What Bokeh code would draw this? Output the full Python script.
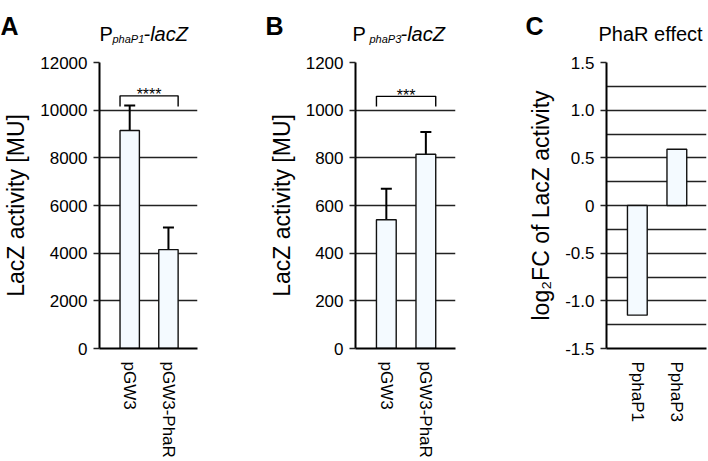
from bokeh.plotting import figure
from bokeh.models import Range1d, FixedTicker, Label, Whisker, ColumnDataSource, TeeHead
from bokeh.layouts import row, column
from bokeh.embed import file_html
from bokeh.resources import INLINE

FONT = "Liberation Sans"
BAR_FILL = "#f4faff"
GRID = "#222222"

# --- data -------------------------------------------------------------
strains = ["pGW3", "pGW3-PhaR"]

# P_phaP1-lacZ reporter (Miller units, mean and error)
phaP1_mean = [9150, 4150]
phaP1_err = [1050, 930]
phaP1_signif = "****"

# P_phaP3-lacZ reporter
phaP3_mean = [540, 815]
phaP3_err = [130, 93]
phaP3_signif = "***"

# log2 fold change caused by PhaR
promoters = ["PphaP1", "PphaP3"]
log2fc = [-1.15, 0.59]

ticks_A = [0, 2000, 4000, 6000, 8000, 10000, 12000]
ticks_B = [0, 200, 400, 600, 800, 1000, 1200]
ticks_C = [-1.5, -1.0, -0.5, 0.0, 0.5, 1.0, 1.5]
tick_labels_C = ["-1.5", "-1.0", "-0.5", "0", "0.5", "1.0", "1.5"]
grid_C = [-1.5, -1.25, -1.0, -0.75, -0.5, -0.25, 0.0, 0.25, 0.5, 0.75, 1.0, 1.25, 1.5]

WIDTH = 708
HEAD_H = 45          # strip with panel letters and titles
PLOT_H = 461 - HEAD_H
TOP_BORDER = 17
BOTTOM_BORDER = 113


def make_panel(width, left, right, names, ticks, grid_ticks, ylabel, tick_labels=None):
    xs = list(range(1, len(names) + 1))
    p = figure(width=width, height=PLOT_H,
               x_range=Range1d(0.22, 2.75), y_range=Range1d(ticks[0], ticks[-1]),
               output_backend="svg", toolbar_location=None,
               min_border_left=left, min_border_right=right,
               min_border_top=TOP_BORDER, min_border_bottom=BOTTOM_BORDER)
    p.outline_line_color = None
    p.background_fill_color = "white"
    p.border_fill_color = "white"

    xa = p.xaxis[0]
    xa.ticker = FixedTicker(ticks=xs)
    xa.major_label_overrides = {x: n for x, n in zip(xs, names)}
    xa.major_label_orientation = "vertical"
    xa.major_tick_line_color = None
    xa.major_tick_out = 0
    xa.major_tick_in = 0
    xa.minor_tick_line_color = None
    xa.minor_tick_out = 0
    xa.axis_line_width = 2
    xa.axis_line_color = "black"
    xa.major_label_standoff = 13
    xa.major_label_text_font = FONT
    xa.major_label_text_font_size = "17px"
    xa.major_label_text_color = "black"
    p.xgrid.visible = False

    ya = p.yaxis[0]
    ya.ticker = FixedTicker(ticks=ticks)
    if tick_labels is not None:
        ya.major_label_overrides = {t: s for t, s in zip(ticks, tick_labels)}
    ya.major_tick_out = 6
    ya.major_tick_in = 0
    ya.major_tick_line_width = 1.5
    ya.major_tick_line_color = GRID
    ya.minor_tick_line_color = None
    ya.axis_line_width = 2
    ya.axis_line_color = "black"
    ya.major_label_text_font = FONT
    ya.major_label_text_font_size = "17px"
    ya.major_label_text_color = "black"
    ya.major_label_standoff = 6
    ya.axis_label = ylabel
    ya.axis_label_text_font = FONT
    ya.axis_label_text_font_size = "23px"
    ya.axis_label_text_font_style = "normal"
    ya.axis_label_text_color = "black"
    ya.axis_label_standoff = 8

    p.ygrid.ticker = FixedTicker(ticks=grid_ticks)
    p.ygrid.grid_line_color = GRID
    p.ygrid.grid_line_width = 1.5
    return p, xs


def bars_with_errors(p, xs, mean, err):
    p.vbar(x=xs, top=mean, bottom=0, width=0.5, fill_color=BAR_FILL,
           line_color="#111111", line_width=1.4)
    src = ColumnDataSource(dict(x=xs,
                                upper=[m + e for m, e in zip(mean, err)],
                                lower=[m - e for m, e in zip(mean, err)]))
    p.add_layout(Whisker(source=src, base="x", upper="upper", lower="lower",
                         line_color="black", line_width=2,
                         upper_head=TeeHead(size=11, line_width=2, line_color="black"),
                         lower_head=TeeHead(size=11, line_width=2, line_color="black")))


def bracket(p, xs, top, leg, stars):
    x0 = xs[0] - 0.25
    x1 = xs[-1] + 0.25
    p.line([x0, x0, x1, x1], [top - leg, top, top, top - leg],
           line_color="black", line_width=1.4)
    p.add_layout(Label(x=(x0 + x1) / 2, y=top, text=stars, text_font=FONT,
                       text_font_size="16px", text_color="black",
                       text_align="center", text_baseline="alphabetic", y_offset=1))


# --- header strip: panel letters and titles (pixel coordinates) --------
head = figure(width=WIDTH, height=HEAD_H, x_range=Range1d(0, WIDTH),
              y_range=Range1d(HEAD_H, 0), output_backend="svg",
              toolbar_location=None, x_axis_location=None, y_axis_location=None,
              min_border=0)
head.outline_line_color = None
head.xgrid.visible = False
head.ygrid.visible = False
head.background_fill_color = "white"
head.border_fill_color = "white"


def put(x, y, text, size, style="normal"):
    head.add_layout(Label(x=x, y=y, text=text, text_font=FONT, text_font_size=size,
                          text_font_style=style, text_color="black",
                          text_baseline="alphabetic", text_align="left"))


put(0, 25, "A", "25px", "bold")
put(99, 33, "P", "20px")
put(112, 38, "phaP1", "11px", "italic")
put(143, 33, "-lacZ", "20px", "italic")

put(265, 25, "B", "25px", "bold")
put(352, 33, "P", "20px")
put(369, 38, "phaP3", "11px", "italic")
put(400, 33, "-lacZ", "20px", "italic")

put(525, 25, "C", "25px", "bold")
put(598, 33, "PhaR effect", "20px")

# --- panel A ----------------------------------------------------------
pa, xa_ = make_panel(240, 97, 43, strains, ticks_A, ticks_A, "LacZ activity [MU]")
bars_with_errors(pa, xa_, phaP1_mean, phaP1_err)
bracket(pa, xa_, 10600, 450, phaP1_signif)

# --- panel B ----------------------------------------------------------
pb, xb_ = make_panel(240, 115, 25, strains, ticks_B, ticks_B, "LacZ activity [MU]")
bars_with_errors(pb, xb_, phaP3_mean, phaP3_err)
bracket(pb, xb_, 1058, 43, phaP3_signif)

# --- panel C ----------------------------------------------------------
pc, xc_ = make_panel(228, 126, 2, promoters, ticks_C, grid_C,
                     "log\u2082FC of LacZ activity", tick_labels_C)
pc.vbar(x=xc_, top=log2fc, bottom=0, width=0.5, fill_color=BAR_FILL,
        line_color="#111111", line_width=1.4)

layout = column(head, row(pa, pb, pc))
open("out.html", "w").write(file_html(layout, INLINE))
